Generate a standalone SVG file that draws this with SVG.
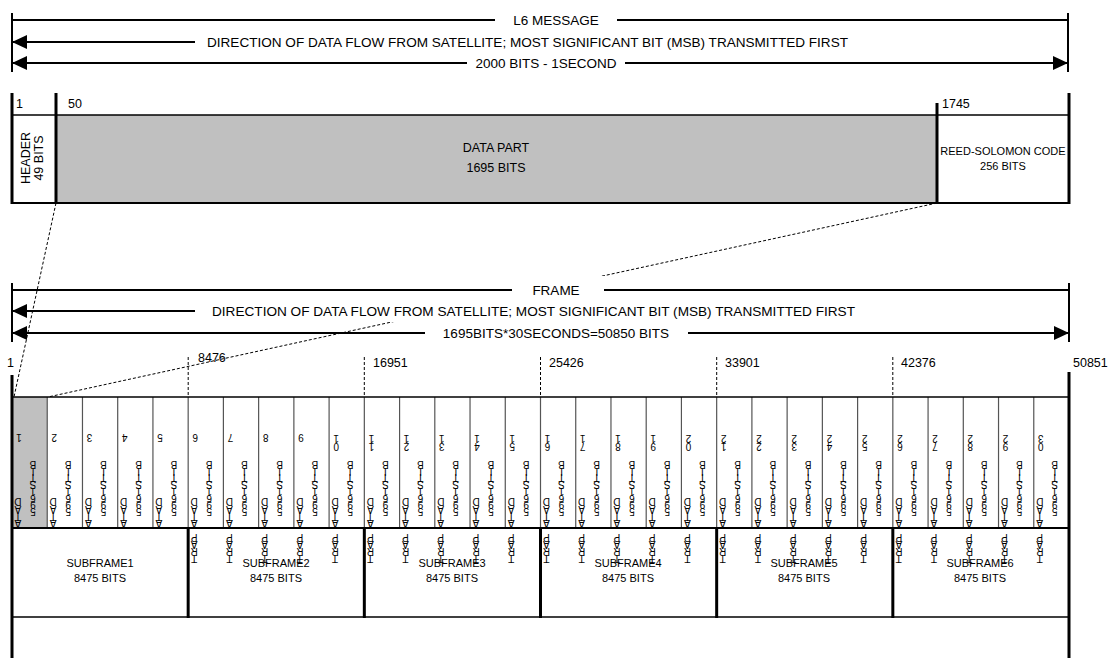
<svg xmlns="http://www.w3.org/2000/svg" width="1112" height="658" viewBox="0 0 1112 658">
<style>
text{font-family:"Liberation Sans",Arial,sans-serif;fill:#000}
.t13{font-size:13.5px}
.t12{font-size:12.5px}
.t11{font-size:11px}
.c{font-size:10px}
.mid{text-anchor:middle}
.ln{stroke:#000;stroke-width:2;fill:none}
.thk{stroke:#000;stroke-width:3;fill:none}
.thin{stroke:#000;stroke-width:1.5;fill:none}
.cell{stroke:#555;stroke-width:1.2}
.dash{stroke:#000;stroke-width:1;stroke-dasharray:3 2;fill:none}
.gray{fill:#c0c0c0}
.bg{fill:#fff}
.cells{opacity:0.99}
</style>
<defs>
<marker id="ah" markerUnits="userSpaceOnUse" markerWidth="16" markerHeight="14" viewBox="0 0 16 14" refX="15" refY="7" orient="auto-start-reverse"><path d="M0,0 L15,7 L0,14 Z" fill="#000"/></marker>
<g id="cb">
<text class="c" x="9.6 9.3 9 9.3" y="498 505.5 512.5 519.5" rotate="180">DATA</text>
<text class="c" x="24.3 22.4 24 24.3 23.8 23.8 23.8 23.8" y="461 468 474 480.5 487.5 494.5 501 507.5" rotate="180">BITS1695</text>
</g>
<g id="cp">
<text class="c" x="9.3 9.3 9.6 9" y="533.5 540.5 547.5 554.5" rotate="180">PART</text>
</g>
</defs>

<g id="l6-message">
<line class="ln" x1="12" y1="13" x2="12" y2="72"/>
<line class="ln" x1="1068" y1="13" x2="1068" y2="72"/>
<line class="ln" x1="12" y1="20" x2="495" y2="20"/>
<line class="ln" x1="617" y1="20" x2="1068" y2="20"/>
<text class="t13 mid" x="556" y="24.5">L6 MESSAGE</text>
<text class="t13" x="207" y="47" textLength="641" lengthAdjust="spacingAndGlyphs">DIRECTION OF DATA FLOW FROM SATELLITE; MOST SIGNIFICANT BIT (MSB) TRANSMITTED FIRST</text>
<text class="t13 mid" x="546" y="68">2000 BITS - 1SECOND</text>
</g>

<g id="message-box">
<rect class="gray" x="56" y="115" width="881" height="88"/>
<line class="thin" x1="12" y1="115" x2="1069" y2="115"/>
<line class="ln" x1="12" y1="203" x2="1069" y2="203"/>
<line class="thk" x1="12" y1="93" x2="12" y2="204"/>
<line class="thk" x1="56" y1="93" x2="56" y2="204"/>
<line class="thk" x1="937" y1="103" x2="937" y2="204"/>
<line class="thk" x1="1069" y1="93" x2="1069" y2="204"/>
<text class="t12" x="16" y="108">1</text>
<text class="t12" x="68" y="108">50</text>
<text class="t12" x="942" y="108">1745</text>
</g>
<g id="header">
<text class="t12 mid" transform="translate(30,158) rotate(-90)">HEADER</text>
<text class="t12 mid" transform="translate(43,158) rotate(-90)">49 BITS</text>
</g>
<g id="data-part">
<text class="t12 mid" x="496" y="152">DATA PART</text>
<text class="t12 mid" x="496" y="172">1695 BITS</text>
</g>
<g id="reed-solomon">
<text class="t11 mid" x="1003" y="155">REED-SOLOMON CODE</text>
<text class="t11 mid" x="1003" y="170">256 BITS</text>
</g>

<g id="connectors">
<line class="dash" x1="56" y1="203" x2="14" y2="397"/>
<line class="dash" x1="937" y1="203" x2="48" y2="397"/>
<line class="ln" x1="12" y1="42" x2="195" y2="42" marker-start="url(#ah)"/>
<line class="ln" x1="12" y1="63" x2="467" y2="63" marker-start="url(#ah)"/>
<line class="ln" x1="625" y1="63" x2="1068" y2="63" marker-end="url(#ah)"/>
</g>

<g id="frame-header">
<rect class="bg" x="490" y="276" width="122" height="24"/>
<rect class="bg" x="205" y="300" width="655" height="22"/>
<line class="ln" x1="12" y1="283" x2="12" y2="342"/>
<line class="ln" x1="1069" y1="283" x2="1069" y2="342"/>
<line class="ln" x1="12" y1="290" x2="512" y2="290"/>
<line class="ln" x1="604" y1="290" x2="1069" y2="290"/>
<text class="t13 mid" x="556" y="295">FRAME</text>
<line class="ln" x1="12" y1="311" x2="195" y2="311" marker-start="url(#ah)"/>
<text class="t13" x="212" y="316" textLength="643" lengthAdjust="spacingAndGlyphs">DIRECTION OF DATA FLOW FROM SATELLITE; MOST SIGNIFICANT BIT (MSB) TRANSMITTED FIRST</text>
<line class="ln" x1="12" y1="333" x2="425" y2="333" marker-start="url(#ah)"/>
<line class="ln" x1="688" y1="333" x2="1069" y2="333" marker-end="url(#ah)"/>
<text class="t13 mid" x="556" y="338">1695BITS*30SECONDS=50850 BITS</text>
</g>

<g id="frame-labels">
<text class="t12" x="7" y="367">1</text>
<text class="t12" x="198" y="362">8476</text>
<text class="t12" x="373" y="367">16951</text>
<text class="t12" x="549" y="367">25426</text>
<text class="t12" x="725" y="367">33901</text>
<text class="t12" x="901" y="367">42376</text>
<text class="t12" x="1073" y="367">50851</text>
<line class="dash" x1="188.2" y1="357" x2="188.2" y2="397"/>
<line class="dash" x1="364.3" y1="357" x2="364.3" y2="397"/>
<line class="dash" x1="540.5" y1="357" x2="540.5" y2="397"/>
<line class="dash" x1="716.7" y1="357" x2="716.7" y2="397"/>
<line class="dash" x1="892.8" y1="357" x2="892.8" y2="397"/>
</g>

<g id="frame-box">
<rect class="gray" x="12" y="397" width="35.2" height="131"/>
<g class="cell">
<line x1="47.23" y1="397" x2="47.23" y2="528"/>
<line x1="82.47" y1="397" x2="82.47" y2="528"/>
<line x1="117.7" y1="397" x2="117.7" y2="528"/>
<line x1="152.93" y1="397" x2="152.93" y2="528"/>
<line x1="188.17" y1="397" x2="188.17" y2="528"/>
<line x1="223.4" y1="397" x2="223.4" y2="528"/>
<line x1="258.63" y1="397" x2="258.63" y2="528"/>
<line x1="293.87" y1="397" x2="293.87" y2="528"/>
<line x1="329.1" y1="397" x2="329.1" y2="528"/>
<line x1="364.33" y1="397" x2="364.33" y2="528"/>
<line x1="399.57" y1="397" x2="399.57" y2="528"/>
<line x1="434.8" y1="397" x2="434.8" y2="528"/>
<line x1="470.03" y1="397" x2="470.03" y2="528"/>
<line x1="505.27" y1="397" x2="505.27" y2="528"/>
<line x1="540.5" y1="397" x2="540.5" y2="528"/>
<line x1="575.73" y1="397" x2="575.73" y2="528"/>
<line x1="610.97" y1="397" x2="610.97" y2="528"/>
<line x1="646.2" y1="397" x2="646.2" y2="528"/>
<line x1="681.43" y1="397" x2="681.43" y2="528"/>
<line x1="716.67" y1="397" x2="716.67" y2="528"/>
<line x1="751.9" y1="397" x2="751.9" y2="528"/>
<line x1="787.13" y1="397" x2="787.13" y2="528"/>
<line x1="822.37" y1="397" x2="822.37" y2="528"/>
<line x1="857.6" y1="397" x2="857.6" y2="528"/>
<line x1="892.83" y1="397" x2="892.83" y2="528"/>
<line x1="928.07" y1="397" x2="928.07" y2="528"/>
<line x1="963.3" y1="397" x2="963.3" y2="528"/>
<line x1="998.53" y1="397" x2="998.53" y2="528"/>
<line x1="1033.77" y1="397" x2="1033.77" y2="528"/>
</g>
<line class="thin" x1="12" y1="397" x2="1069" y2="397"/>
<line class="ln" x1="12" y1="528" x2="1069" y2="528"/>
<line class="thin" x1="12" y1="617" x2="1069" y2="617"/>
<line class="thk" x1="188.17" y1="527" x2="188.17" y2="618"/>
<line class="thk" x1="364.33" y1="527" x2="364.33" y2="618"/>
<line class="thk" x1="540.5" y1="527" x2="540.5" y2="618"/>
<line class="thk" x1="716.67" y1="527" x2="716.67" y2="618"/>
<line class="thk" x1="892.83" y1="527" x2="892.83" y2="618"/>
<line class="thk" x1="12" y1="375" x2="12" y2="658"/>
<line class="thk" x1="1069" y1="372" x2="1069" y2="658"/>
</g>

<g id="subframe1"><text class="t11 mid" x="100" y="567">SUBFRAME1</text><text class="t11 mid" x="100" y="582">8475 BITS</text></g>
<g id="subframe2"><text class="t11 mid" x="276" y="567">SUBFRAME2</text><text class="t11 mid" x="276" y="582">8475 BITS</text></g>
<g id="subframe3"><text class="t11 mid" x="452" y="567">SUBFRAME3</text><text class="t11 mid" x="452" y="582">8475 BITS</text></g>
<g id="subframe4"><text class="t11 mid" x="628" y="567">SUBFRAME4</text><text class="t11 mid" x="628" y="582">8475 BITS</text></g>
<g id="subframe5"><text class="t11 mid" x="804" y="567">SUBFRAME5</text><text class="t11 mid" x="804" y="582">8475 BITS</text></g>
<g id="subframe6"><text class="t11 mid" x="980" y="567">SUBFRAME6</text><text class="t11 mid" x="980" y="582">8475 BITS</text></g>

<g class="cells">
<g id="cell1" transform="translate(12,0)"><use href="#cb"/><text class="c" x="9.8" y="434" rotate="180">1</text></g>
<g id="cell2" transform="translate(47.23,0)"><use href="#cb"/><text class="c" x="9.8" y="434" rotate="180">2</text></g>
<g id="cell3" transform="translate(82.47,0)"><use href="#cb"/><text class="c" x="9.8" y="434" rotate="180">3</text></g>
<g id="cell4" transform="translate(117.7,0)"><use href="#cb"/><text class="c" x="9.8" y="434" rotate="180">4</text></g>
<g id="cell5" transform="translate(152.93,0)"><use href="#cb"/><text class="c" x="9.8" y="434" rotate="180">5</text></g>
<g id="cell6" transform="translate(188.17,0)"><use href="#cb"/><use href="#cp"/><text class="c" x="9.8" y="434" rotate="180">6</text></g>
<g id="cell7" transform="translate(223.4,0)"><use href="#cb"/><use href="#cp"/><text class="c" x="9.8" y="434" rotate="180">7</text></g>
<g id="cell8" transform="translate(258.63,0)"><use href="#cb"/><use href="#cp"/><text class="c" x="9.8" y="434" rotate="180">8</text></g>
<g id="cell9" transform="translate(293.87,0)"><use href="#cb"/><use href="#cp"/><text class="c" x="9.8" y="434" rotate="180">9</text></g>
<g id="cell10" transform="translate(329.1,0)"><use href="#cb"/><use href="#cp"/><text class="c" x="9.8 9.8" y="435 442.5" rotate="180">10</text></g>
<g id="cell11" transform="translate(364.33,0)"><use href="#cb"/><use href="#cp"/><text class="c" x="9.8 9.8" y="435 442.5" rotate="180">11</text></g>
<g id="cell12" transform="translate(399.57,0)"><use href="#cb"/><use href="#cp"/><text class="c" x="9.8 9.8" y="435 442.5" rotate="180">12</text></g>
<g id="cell13" transform="translate(434.8,0)"><use href="#cb"/><use href="#cp"/><text class="c" x="9.8 9.8" y="435 442.5" rotate="180">13</text></g>
<g id="cell14" transform="translate(470.03,0)"><use href="#cb"/><use href="#cp"/><text class="c" x="9.8 9.8" y="435 442.5" rotate="180">14</text></g>
<g id="cell15" transform="translate(505.27,0)"><use href="#cb"/><use href="#cp"/><text class="c" x="9.8 9.8" y="435 442.5" rotate="180">15</text></g>
<g id="cell16" transform="translate(540.5,0)"><use href="#cb"/><use href="#cp"/><text class="c" x="9.8 9.8" y="435 442.5" rotate="180">16</text></g>
<g id="cell17" transform="translate(575.73,0)"><use href="#cb"/><use href="#cp"/><text class="c" x="9.8 9.8" y="435 442.5" rotate="180">17</text></g>
<g id="cell18" transform="translate(610.97,0)"><use href="#cb"/><use href="#cp"/><text class="c" x="9.8 9.8" y="435 442.5" rotate="180">18</text></g>
<g id="cell19" transform="translate(646.2,0)"><use href="#cb"/><use href="#cp"/><text class="c" x="9.8 9.8" y="435 442.5" rotate="180">19</text></g>
<g id="cell20" transform="translate(681.43,0)"><use href="#cb"/><use href="#cp"/><text class="c" x="9.8 9.8" y="435 442.5" rotate="180">20</text></g>
<g id="cell21" transform="translate(716.67,0)"><use href="#cb"/><use href="#cp"/><text class="c" x="9.8 9.8" y="435 442.5" rotate="180">21</text></g>
<g id="cell22" transform="translate(751.9,0)"><use href="#cb"/><use href="#cp"/><text class="c" x="9.8 9.8" y="435 442.5" rotate="180">22</text></g>
<g id="cell23" transform="translate(787.13,0)"><use href="#cb"/><use href="#cp"/><text class="c" x="9.8 9.8" y="435 442.5" rotate="180">23</text></g>
<g id="cell24" transform="translate(822.37,0)"><use href="#cb"/><use href="#cp"/><text class="c" x="9.8 9.8" y="435 442.5" rotate="180">24</text></g>
<g id="cell25" transform="translate(857.6,0)"><use href="#cb"/><use href="#cp"/><text class="c" x="9.8 9.8" y="435 442.5" rotate="180">25</text></g>
<g id="cell26" transform="translate(892.83,0)"><use href="#cb"/><use href="#cp"/><text class="c" x="9.8 9.8" y="435 442.5" rotate="180">26</text></g>
<g id="cell27" transform="translate(928.07,0)"><use href="#cb"/><use href="#cp"/><text class="c" x="9.8 9.8" y="435 442.5" rotate="180">27</text></g>
<g id="cell28" transform="translate(963.3,0)"><use href="#cb"/><use href="#cp"/><text class="c" x="9.8 9.8" y="435 442.5" rotate="180">28</text></g>
<g id="cell29" transform="translate(998.53,0)"><use href="#cb"/><use href="#cp"/><text class="c" x="9.8 9.8" y="435 442.5" rotate="180">29</text></g>
<g id="cell30" transform="translate(1033.77,0)"><use href="#cb"/><use href="#cp"/><text class="c" x="9.8 9.8" y="435 442.5" rotate="180">30</text></g>
</g>
</svg>
